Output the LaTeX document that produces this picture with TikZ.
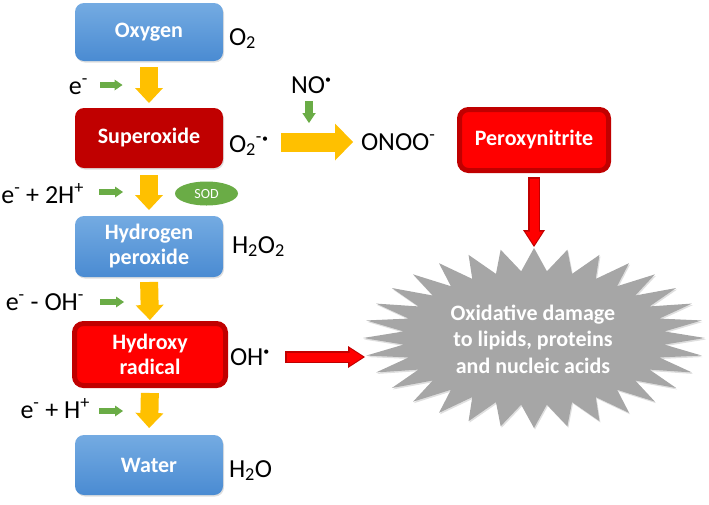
\documentclass[tikz,border=0pt]{standalone}
\usepackage{fontspec}
\setmainfont{Carlito}
\usetikzlibrary{arrows.meta,shadows,shapes.geometric}
\definecolor{bluetop}{HTML}{74ABE2}
\definecolor{bluebot}{HTML}{4A8BD2}
\definecolor{darkred}{HTML}{C00000}
\definecolor{brightred}{HTML}{FF0000}
\definecolor{redborder}{HTML}{C00000}
\definecolor{gold}{HTML}{FFC000}
\definecolor{leaf}{HTML}{6AAC46}
\definecolor{burstgray}{HTML}{A6A6A6}
\newcommand\radot{\textsuperscript{\fontsize{12}{12}\selectfont\textbullet}}
\tikzset{
  softshadow/.style={drop shadow={opacity=0.25, shadow xshift=1pt, shadow yshift=-1.5pt}},
  box/.style={rounded corners=9pt, minimum width=148pt, inner sep=0pt, outer sep=0pt,
    text=white, font=\fontsize{22}{25}\selectfont\bfseries, align=center, softshadow},
  bluebox/.style={box, top color=bluetop, bottom color=bluebot},
  darkbox/.style={box, fill=darkred},
  redbox/.style={box, fill=brightred, draw=redborder, line width=5pt},
  chem/.style={inner sep=0pt, outer sep=0pt, font=\fontsize{26}{30}\selectfont},
  yarrow/.style={draw=gold, line width=18pt, -{Triangle[width=28pt,length=15pt,line width=0pt]}},
  bigyarrow/.style={draw=gold, line width=19pt, -{Triangle[width=37pt,length=18pt,line width=0pt]}},
  garrow/.style={draw=leaf, line width=6.5pt, -{Triangle[width=11pt,length=8pt,line width=0pt]}},
  gdown/.style={draw=leaf, line width=8.5pt, -{Triangle[width=13.5pt,length=10pt,line width=0pt]}},
  redout/.style={draw=redborder, line width=12pt, -{Triangle[width=22pt,length=17pt,line width=0pt]}},
  redin/.style={draw=brightred, line width=9pt, -{Triangle[width=17.5pt,length=13.5pt,line width=0pt]},
    shorten >=2pt, shorten <=1.5pt},
  bursttext/.style={inner sep=0pt, text=white, align=center, font=\fontsize{22}{26.5}\selectfont\bfseries},
  sodstyle/.style={ellipse, fill=leaf, minimum width=63pt, minimum height=24pt, inner sep=0pt,
    text=white, font=\fontsize{14}{16}\selectfont}
}
\begin{document}
\begin{tikzpicture}[x=1pt,y=-1pt]
\useasboundingbox (0,0) rectangle (709,504);
% boxes
\node[bluebox, minimum height=58pt] (oxygen) at (149,32) {Oxygen};
\node[darkbox, minimum height=60pt] (superoxide) at (149,138) {Superoxide};
\node[bluebox, minimum height=61pt] (hydrogen) at (149,246.5) {Hydrogen\\peroxide};
\node[redbox, minimum width=151pt, minimum height=62pt] (hydroxy) at (150,354.5) {Hydroxy\\radical};
\node[bluebox, minimum height=60pt] (water) at (149,465) {Water};
\node[redbox, minimum width=149pt, minimum height=61pt] (peroxy) at (534,140) {Peroxynitrite};
% starburst
\begin{scope}[shift={(534,338)}]
\fill[burstgray, softshadow] (90:171pt and 90pt)
  \foreach \k in {0,...,31}{ -- ({95.625+\k*11.25}:131pt and 67pt) -- ({101.25+\k*11.25}:171pt and 90pt)} -- cycle;
\end{scope}
\node[bursttext] (damage) at (533,339) {Oxidative damage\\to lipids, proteins\\and nucleic acids};
\coordinate (bursttop) at (534,247);
\coordinate (burstleft) at (365,357);
% chemical labels
\node[chem, anchor=base west] (o2) at (229,45) {O\textsubscript{2}};
\node[chem, anchor=base west] (o2rad) at (229,152) {O\textsubscript{2}\textsuperscript{-}\radot};
\node[chem, anchor=base west] (h2o2) at (232,253) {H\textsubscript{2}O\textsubscript{2}};
\node[chem, anchor=base west] (ohrad) at (230,365) {OH\radot};
\node[chem, anchor=base west] (h2o) at (229,477) {H\textsubscript{2}O};
\node[chem, anchor=base west] (no) at (291,93) {NO\radot};
\node[chem, anchor=base west] (onoo) at (361,150) {ONOO\textsuperscript{-}};
\node[chem, anchor=base east] (lab1) at (88,94) {e\textsuperscript{-}};
\node[chem, anchor=base east] (lab2) at (84,203) {e\textsuperscript{-} + 2H\textsuperscript{+}};
\node[chem, anchor=base east] (lab3) at (84,310) {e\textsuperscript{-} - OH\textsuperscript{-}};
\node[chem, anchor=base east] (lab4) at (90,418) {e\textsuperscript{-} + H\textsuperscript{+}};
\node[sodstyle] (sod) at (206.5,193.5) {SOD};
% yellow arrows
\draw[yarrow, shorten <=6pt, shorten >=5pt] (oxygen.south) -- (superoxide.north);
\draw[yarrow, shorten <=7pt, shorten >=6pt] (superoxide.south) -- (hydrogen.north);
\draw[yarrow, shorten <=5pt, shorten >=3.5pt] (hydrogen.south) -- (hydroxy.north);
\draw[yarrow, shorten <=7.5pt, shorten >=7pt] (hydroxy.south) -- (water.north);
\coordinate (ys) at (281,142);
\coordinate (ye) at (353,142);
\draw[bigyarrow] (ys) -- (ye);
% green arrows
\coordinate (g1a) at (100,85);  \coordinate (g1b) at (122.5,85);
\coordinate (g2a) at (99,192);  \coordinate (g2b) at (123,192);
\coordinate (g3a) at (100,302); \coordinate (g3b) at (124,302);
\coordinate (g4a) at (99,411);  \coordinate (g4b) at (123,411);
\draw[garrow] (g1a) -- (g1b);
\draw[garrow] (g2a) -- (g2b);
\draw[garrow] (g3a) -- (g3b);
\draw[garrow] (g4a) -- (g4b);
\coordinate (nda) at (309,101); \coordinate (ndb) at (309,123);
\draw[gdown] (nda) -- (ndb);
% red arrows
\draw[redout, shorten <=6.5pt] (peroxy.south) -- (bursttop);
\draw[redin, shorten <=8pt] (peroxy.south) -- (bursttop);
\coordinate (ohstart) at (285,357);
\draw[redout] (ohstart) -- (burstleft);
\draw[redin] (ohstart) -- (burstleft);
\end{tikzpicture}
\end{document}
